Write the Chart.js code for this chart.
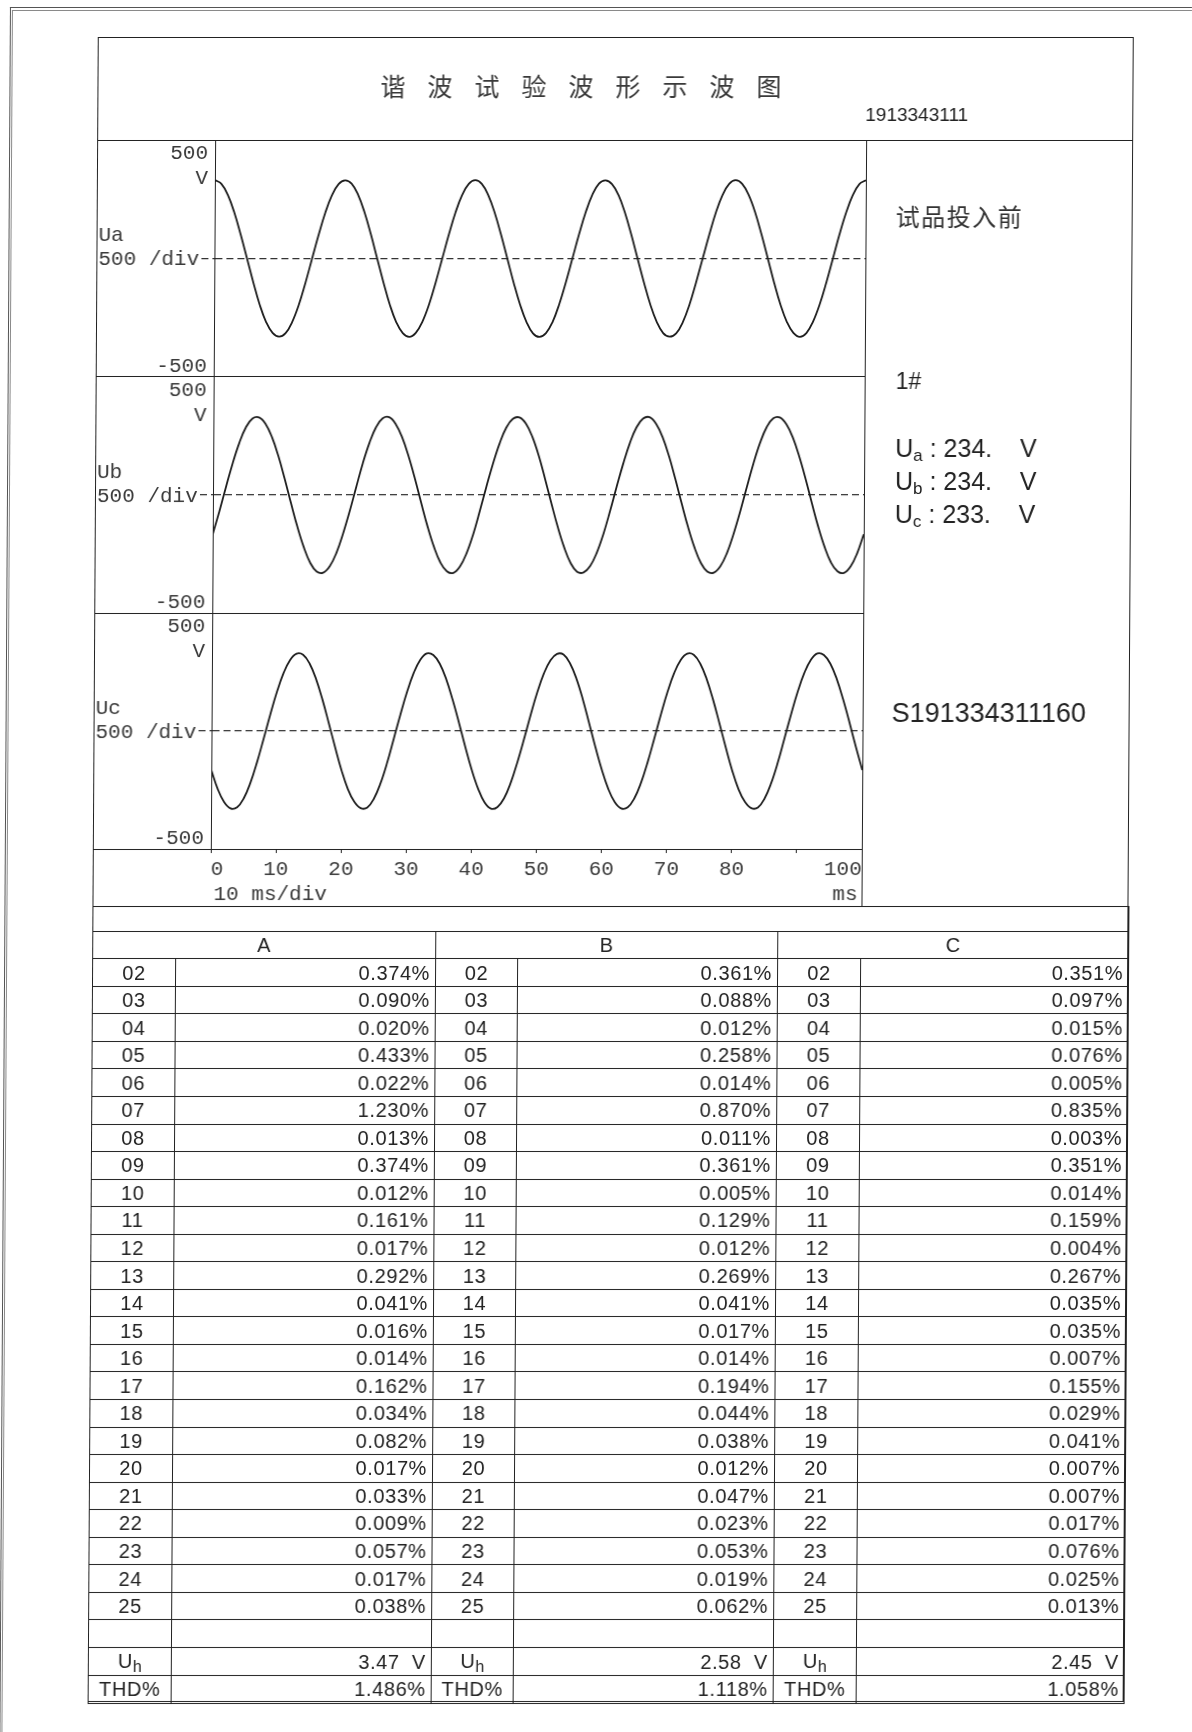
<!DOCTYPE html>
<html>
<head>
<meta charset="utf-8">
<title>谐波试验波形示波图</title>
<script src="https://cdn.jsdelivr.net/npm/chart.js@4.4.1/dist/chart.umd.min.js"></script>
<style>
  html, body { margin: 0; padding: 0; background: #fff; }
  #sheet {
    position: relative; width: 1192px; height: 1732px; overflow: hidden; background: #fff;
    font-family: 'Liberation Sans', Arial, sans-serif; color: #222;
    transform: skewX(-0.35deg); transform-origin: 0 0;
  }
  .frame { position: absolute; width: 1300px; height: 1900px; border-left: 1px solid #555; border-top: 1px solid #555; }
  .frame.inner { border-color: #8a8a8a; }
  .ln { position: absolute; background: #222; }
  .box { position: absolute; border: 1px solid #222; box-sizing: border-box; }
  .txt { position: absolute; white-space: pre; }
  canvas { position: absolute; }
  .cjk { font-family: 'Noto Sans CJK SC', sans-serif; }
  .vsub { position: relative; top: 4px; font-size: 17px; }
  #harm {
    position: absolute; left: 98px; top: 906px; width: 1036px;
    border-collapse: collapse; table-layout: fixed;
    font-size: 20px; letter-spacing: 0.6px; line-height: 20px; color: #222;
  }
  #harm td { border: 1px solid #222; padding: 0; vertical-align: middle; white-space: pre; }
  #harm td.ord, #harm tr.head td { text-align: center; }
  #harm td.val { text-align: right; padding-right: 5px; }
  #harm tr.gap { height: 24.7px; }
  #harm tr.head { height: 27.6px; }
  #harm tr.row { height: 27.55px; }
  #harm tr.gap2 { height: 28px; }
  #harm .hsub { position: relative; top: 4px; font-size: 16px; letter-spacing: 0; }
</style>
</head>
<body>
<div id="sheet">
  <div class="frame" style="left:10px;top:7px"></div>
  <div class="frame inner" style="left:12px;top:10px"></div>

  <canvas id="panelUa" width="769" height="237" style="left:98px;top:140px"></canvas>
  <canvas id="panelUb" width="769" height="236" style="left:98px;top:377px"></canvas>
  <canvas id="panelUc" width="769" height="293" style="left:98px;top:613px"></canvas>

  <div class="box" style="left:98px;top:37px;width:1036px;height:1665px"></div>
  <div class="ln" style="left:98px;top:140px;width:1035px;height:1px"></div>
  <div class="ln" style="left:98px;top:376px;width:769px;height:1px"></div>
  <div class="ln" style="left:98px;top:613px;width:769px;height:1px"></div>
  <div class="ln" style="left:98px;top:849px;width:769px;height:1px"></div>
  <div class="ln" style="left:98px;top:906px;width:1035px;height:1px"></div>
  <div class="ln" style="left:867px;top:140px;width:1px;height:766px"></div>

  <div id="title" class="txt cjk" style="left:381px;top:73px;font-size:25px;line-height:25px;letter-spacing:22px;color:#3a3a3a"></div>
  <div id="reportNo" class="txt" style="left:866px;top:105px;font-size:19px;line-height:19px"></div>
  <div id="stateNote" class="txt cjk" style="left:897px;top:204px;font-size:24px;line-height:24px;letter-spacing:1.5px;color:#333"></div>
  <div id="stationNo" class="txt" style="left:898px;top:370px;font-size:23px;line-height:23px"></div>
  <div id="rmsLines"></div>
  <div id="sampleNo" class="txt" style="left:896px;top:700px;font-size:27px;line-height:27px"></div>

  <table id="harm">
    <colgroup>
      <col style="width:83px"><col style="width:260px">
      <col style="width:82px"><col style="width:260px">
      <col style="width:83px"><col style="width:268px">
    </colgroup>
    <tbody id="harmBody"></tbody>
  </table>
</div>

<script>
// ---- Header texts ----
const reportTitle = '谐波试验波形示波图';
const reportNo = '1913343111';
const stateNote = '试品投入前';
const stationNo = '1#';
const sampleNo = 'S191334311160';

// ---- Oscillogram traces: instantaneous voltage (V) sampled every millisecond ----
const timeMs = [
  0, 1, 2, 3, 4, 5, 6, 7, 8, 9, 10, 11, 12, 13, 14, 15, 16, 17, 18, 19,
  20, 21, 22, 23, 24, 25, 26, 27, 28, 29, 30, 31, 32, 33, 34, 35, 36, 37, 38, 39,
  40, 41, 42, 43, 44, 45, 46, 47, 48, 49, 50, 51, 52, 53, 54, 55, 56, 57, 58, 59,
  60, 61, 62, 63, 64, 65, 66, 67, 68, 69, 70, 71, 72, 73, 74, 75, 76, 77, 78, 79,
  80, 81, 82, 83, 84, 85, 86, 87, 88, 89, 90, 91, 92, 93, 94, 95, 96, 97, 98, 99,
  100
];
const voltsUa = [
  331, 315, 268, 195, 102, 1, -101, -195, -268, -314, -330, -315, -268, -196, -103, -1, 101, 194, 267, 314,
  330, 316, 269, 196, 103, 0, -102, -196, -269, -315, -331, -314, -267, -195, -102, 0, 102, 195, 268, 315,
  331, 315, 267, 194, 101, -1, -103, -195, -268, -316, -331, -315, -268, -194, -101, 1, 103, 196, 269, 316,
  330, 314, 268, 195, 102, 0, -101, -194, -267, -315, -330, -316, -269, -196, -102, 0, 101, 195, 268, 315,
  331, 315, 268, 196, 103, 1, -102, -195, -268, -314, -331, -315, -267, -195, -103, -1, 102, 194, 267, 314,
  330
];
const voltsUb = [
  -166, -69, 35, 135, 221, 287, 324, 329, 302, 246, 166, 69, -35, -135, -221, -287, -324, -329, -302, -246,
  -165, -70, 34, 136, 222, 288, 325, 330, 301, 245, 165, 70, -34, -134, -220, -286, -323, -330, -303, -247,
  -167, -68, 36, 135, 220, 286, 323, 329, 303, 247, 167, 68, -36, -136, -222, -288, -325, -328, -301, -245,
  -166, -69, 35, 134, 221, 287, 324, 330, 302, 246, 166, 69, -35, -135, -221, -287, -324, -329, -302, -246,
  -165, -70, 34, 135, 222, 288, 325, 329, 301, 245, 165, 70, -34, -134, -220, -286, -323, -330, -303, -247,
  -166
];
const voltsUc = [
  -165, -245, -301, -328, -323, -286, -221, -134, -34, 69, 165, 245, 301, 328, 323, 286, 221, 134, 34, -69,
  -166, -246, -300, -327, -324, -287, -222, -135, -33, 70, 166, 246, 302, 329, 322, 285, 220, 133, 35, -68,
  -164, -244, -302, -329, -322, -285, -220, -133, -35, 68, 164, 244, 300, 327, 324, 287, 222, 135, 33, -70,
  -165, -245, -301, -328, -323, -286, -221, -134, -34, 69, 165, 245, 301, 328, 323, 286, 221, 134, 34, -69,
  -166, -246, -300, -327, -324, -287, -222, -135, -33, 70, 166, 246, 302, 329, 322, 285, 220, 133, 35, -68,
  -165
];
const phaseNames = ['Ua', 'Ub', 'Uc'];
const voltRange = [-500, 500];
const voltTickLabels = ['500', '-500'];
const voltUnit = 'V';
const voltPerDiv = '500 /div';
const timeTickValues = [0, 10, 20, 30, 40, 50, 60, 70, 80, 90, 100];
const timeTickLabels = ['0', '10', '20', '30', '40', '50', '60', '70', '80', '', '100'];
const timePerDiv = '10 ms/div';
const timeUnit = 'ms';

// ---- RMS readings per phase (V) ----
const rmsVoltage = [234, 234, 233];

// ---- Harmonic content table (% of fundamental) ----
const phaseHeaders = ['A', 'B', 'C'];
const harmonicOrders = ['02', '03', '04', '05', '06', '07', '08', '09', '10', '11', '12', '13',
                        '14', '15', '16', '17', '18', '19', '20', '21', '22', '23', '24', '25'];
const harmonicA = [0.374, 0.090, 0.020, 0.433, 0.022, 1.230, 0.013, 0.374, 0.012, 0.161, 0.017, 0.292,
                   0.041, 0.016, 0.014, 0.162, 0.034, 0.082, 0.017, 0.033, 0.009, 0.057, 0.017, 0.038];
const harmonicB = [0.361, 0.088, 0.012, 0.258, 0.014, 0.870, 0.011, 0.361, 0.005, 0.129, 0.012, 0.269,
                   0.041, 0.017, 0.014, 0.194, 0.044, 0.038, 0.012, 0.047, 0.023, 0.053, 0.019, 0.062];
const harmonicC = [0.351, 0.097, 0.015, 0.076, 0.005, 0.835, 0.003, 0.351, 0.014, 0.159, 0.004, 0.267,
                   0.035, 0.035, 0.007, 0.155, 0.029, 0.041, 0.007, 0.007, 0.017, 0.076, 0.025, 0.013];
const harmonicVoltage = [3.47, 2.58, 2.45];
const thdPercent = [1.486, 1.118, 1.058];

// ---- Header and side column ----
document.getElementById('title').textContent = reportTitle;
document.getElementById('reportNo').textContent = reportNo;
document.getElementById('stateNote').textContent = stateNote;
document.getElementById('stationNo').textContent = stationNo;
document.getElementById('sampleNo').textContent = sampleNo;

const rmsBox = document.getElementById('rmsLines');
const rmsTops = [436, 469, 502];
phaseNames.forEach((name, i) => {
  const line = document.createElement('div');
  line.className = 'txt';
  line.style.cssText = `left:898px;top:${rmsTops[i]}px;font-size:25px;line-height:25px`;
  line.append(name.charAt(0));
  const sub = document.createElement('span');
  sub.className = 'vsub';
  sub.textContent = name.slice(1);
  line.append(sub);
  line.append(` : ${rmsVoltage[i]}.    V`);
  rmsBox.append(line);
});

// ---- Harmonic table ----
const rows = [];
rows.push('<tr class="gap"><td colspan="6"></td></tr>');
rows.push('<tr class="head">' + phaseHeaders.map(h => `<td colspan="2">${h}</td>`).join('') + '</tr>');
harmonicOrders.forEach((ord, i) => {
  const vals = [harmonicA[i], harmonicB[i], harmonicC[i]];
  rows.push('<tr class="row">' + vals.map(v =>
    `<td class="ord">${ord}</td><td class="val">${v.toFixed(3)}%</td>`).join('') + '</tr>');
});
rows.push('<tr class="gap2">' + '<td class="ord"></td><td class="val"></td>'.repeat(3) + '</tr>');
rows.push('<tr class="row">' + harmonicVoltage.map(v =>
  `<td class="ord">U<span class="hsub">h</span></td><td class="val">${v.toFixed(2)}  V</td>`).join('') + '</tr>');
rows.push('<tr class="row">' + thdPercent.map(v =>
  `<td class="ord">THD%</td><td class="val">${v.toFixed(3)}%</td>`).join('') + '</tr>');
document.getElementById('harmBody').innerHTML = rows.join('');

// ---- Oscillogram panels ----
const monoFamily = "'Liberation Mono', 'DejaVu Sans Mono', monospace";
const inkColor = '#3a3a3a';

// Writes the scale captions beside each trace (range, unit, channel, volts per division).
const panelText = {
  id: 'panelText',
  afterDraw(chart, _args, opts) {
    const {ctx, chartArea: a} = chart;
    const y = chart.scales.y;
    ctx.save();
    ctx.font = `21px ${monoFamily}`;
    ctx.fillStyle = inkColor;
    ctx.textBaseline = 'middle';
    ctx.textAlign = 'right';
    const rx = a.left - 7;
    ctx.fillText(voltTickLabels[0], rx, a.top + 13);
    ctx.fillText(voltUnit, rx, a.top + 38);
    ctx.fillText(voltTickLabels[1], rx, a.bottom - 11);
    ctx.textAlign = 'left';
    ctx.fillText(opts.name, 2, a.top + 95);
    ctx.fillText(voltPerDiv, 2, y.getPixelForValue(0) + 1);
    if (opts.timeAxis) {
      const ty = a.bottom + 45;
      ctx.fillText(timePerDiv, a.left + 3, ty);
      ctx.textAlign = 'right';
      ctx.fillText(timeUnit, a.right - 4, ty);
    }
    ctx.restore();
  }
};

function drawPanel(canvasId, values, name, timeAxis) {
  return new Chart(document.getElementById(canvasId), {
    type: 'line',
    data: {
      datasets: [{
        data: timeMs.map((t, i) => ({x: t, y: values[i]})),
        borderColor: '#1d1d1d',
        borderWidth: 1.8,
        pointRadius: 0,
        tension: 0.4,
        fill: false
      }]
    },
    options: {
      responsive: false,
      animation: false,
      events: [],
      layout: {padding: 0},
      plugins: {
        legend: {display: false},
        tooltip: {enabled: false},
        panelText: {name, timeAxis}
      },
      scales: {
        x: {
          type: 'linear',
          min: timeTickValues[0],
          max: timeTickValues[timeTickValues.length - 1],
          display: timeAxis,
          afterFit(scale) {
            scale.height = timeAxis ? 57 : 0;
            scale.paddingLeft = 0;
            scale.paddingRight = 0;
          },
          afterBuildTicks(scale) { scale.ticks = timeTickValues.map(v => ({value: v})); },
          ticks: {
            autoSkip: false,
            maxRotation: 0,
            align: 'inner',
            padding: 4,
            color: inkColor,
            font: {family: monoFamily, size: 21},
            callback: (value, index) => timeTickLabels[index]
          },
          grid: {drawOnChartArea: false, drawTicks: true, tickLength: 4, color: '#222', lineWidth: 1},
          border: {display: false}
        },
        y: {
          type: 'linear',
          min: voltRange[0],
          max: voltRange[1],
          afterFit(scale) {
            scale.width = 118;
            scale.paddingTop = 0;
            scale.paddingBottom = 0;
          },
          afterBuildTicks(scale) { scale.ticks = [voltRange[0], 0, voltRange[1]].map(v => ({value: v})); },
          ticks: {display: false},
          grid: {
            drawOnChartArea: true,
            drawTicks: true,
            tickLength: 13,
            lineWidth: 1.2,
            color: c => (c.tick && c.tick.value === 0) ? '#333' : 'rgba(0,0,0,0)',
            tickBorderDash: [7, 4]
          },
          border: {display: true, color: '#222', width: 1, dash: [7, 4]}
        }
      }
    },
    plugins: [panelText]
  });
}

drawPanel('panelUa', voltsUa, phaseNames[0], false);
drawPanel('panelUb', voltsUb, phaseNames[1], false);
drawPanel('panelUc', voltsUc, phaseNames[2], true);
</script>
</body>
</html>
